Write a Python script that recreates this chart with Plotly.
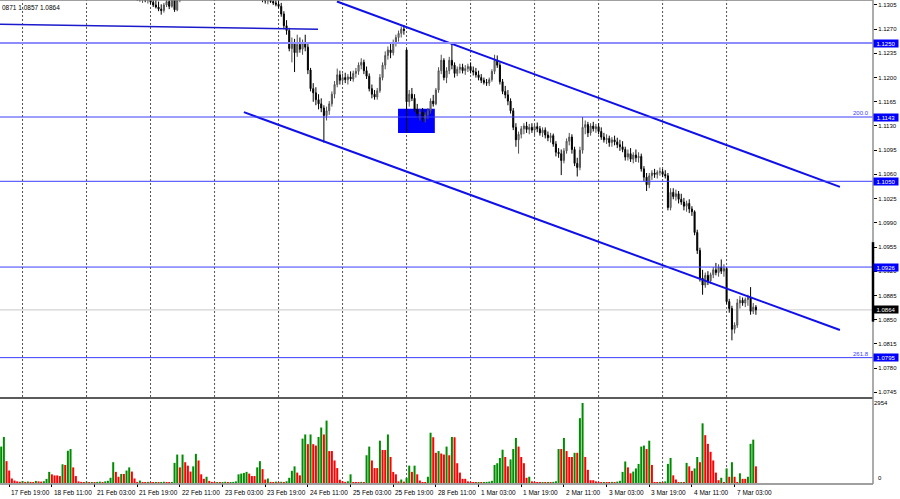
import plotly.graph_objects as go

# ---------------- data (EURUSD H1) ----------------
tick_labels = ["17 Feb 19:00", "18 Feb 11:00", "21 Feb 03:00", "21 Feb 19:00", "22 Feb 11:00",
               "23 Feb 03:00", "23 Feb 19:00", "24 Feb 11:00", "25 Feb 03:00", "25 Feb 19:00",
               "28 Feb 11:00", "1 Mar 03:00", "1 Mar 19:00", "2 Mar 11:00", "3 Mar 03:00",
               "3 Mar 19:00", "4 Mar 11:00", "7 Mar 03:00"]
BARS_PER_LABEL = 16          # one time label every 16 hourly bars
FIRST_BAR = -3               # index of first bar relative to "17 Feb 19:00"
DAY_START_FIRST = 5          # first bar of 18 Feb (00:00)
BARS_PER_DAY = 24

open_ = [
    1.1365, 1.1362, 1.1358, 1.1355, 1.1360, 1.1357, 1.1352, 1.1356, 1.1354, 1.1350,
    1.1347, 1.1349, 1.1344, 1.1341, 1.1346, 1.1352, 1.1348, 1.1343, 1.1338, 1.1335,
    1.1330, 1.1334, 1.1339, 1.1336, 1.1331, 1.1327, 1.1324, 1.1329, 1.1326, 1.1322,
    1.1318, 1.1320, 1.1323, 1.1345, 1.1368, 1.1375, 1.1382, 1.1389, 1.1384, 1.1378,
    1.1372, 1.1366, 1.1370, 1.1361, 1.1355, 1.1349, 1.1342, 1.1338, 1.1333, 1.1328,
    1.1324, 1.1320, 1.1318, 1.1314, 1.1315, 1.1312, 1.1316, 1.1309, 1.1305, 1.1302,
    1.1299, 1.1297, 1.1305, 1.1310, 1.1303, 1.1314, 1.1298, 1.1312, 1.1321, 1.1326,
    1.1331, 1.1338, 1.1335, 1.1342, 1.1339, 1.1334, 1.1330, 1.1333, 1.1337, 1.1340,
    1.1336, 1.1332, 1.1329, 1.1334, 1.1338, 1.1343, 1.1347, 1.1341, 1.1344, 1.1349,
    1.1352, 1.1346, 1.1340, 1.1335, 1.1331, 1.1327, 1.1324, 1.1320, 1.1318, 1.1314,
    1.1311, 1.1313, 1.1310, 1.1308, 1.1306, 1.1303, 1.1292, 1.1275, 1.1268, 1.1242,
    1.1250, 1.1236, 1.1248, 1.1241, 1.1250, 1.1244, 1.1211, 1.1184, 1.1178, 1.1168,
    1.1162, 1.1156, 1.1145, 1.1152, 1.1162, 1.1176, 1.1190, 1.1204, 1.1196, 1.1200,
    1.1197, 1.1201, 1.1198, 1.1206, 1.1209, 1.1218, 1.1222, 1.1210, 1.1202, 1.1184,
    1.1176, 1.1172, 1.1181, 1.1200, 1.1218, 1.1232, 1.1240, 1.1236, 1.1250, 1.1258,
    1.1264, 1.1270, 1.1240, 1.1165, 1.1176, 1.1170, 1.1154, 1.1148, 1.1150, 1.1141,
    1.1146, 1.1152, 1.1166, 1.1162, 1.1182, 1.1210, 1.1225, 1.1200, 1.1210, 1.1225,
    1.1218, 1.1206, 1.1212, 1.1215, 1.1210, 1.1213, 1.1216, 1.1210, 1.1208, 1.1204,
    1.1200, 1.1196, 1.1193, 1.1192, 1.1197, 1.1209, 1.1225, 1.1218, 1.1194, 1.1180,
    1.1175, 1.1166, 1.1152, 1.1128, 1.1110, 1.1118, 1.1126, 1.1130, 1.1125, 1.1128,
    1.1124, 1.1129, 1.1126, 1.1120, 1.1124, 1.1117, 1.1113, 1.1116, 1.1104, 1.1092,
    1.1090, 1.1080, 1.1094, 1.1108, 1.1114, 1.1096, 1.1076, 1.1070, 1.1095, 1.1128,
    1.1132, 1.1120, 1.1130, 1.1126, 1.1129, 1.1122, 1.1114, 1.1110, 1.1112, 1.1106,
    1.1110, 1.1107, 1.1103, 1.1100, 1.1096, 1.1085, 1.1090, 1.1082, 1.1088, 1.1084,
    1.1086, 1.1068, 1.1056, 1.1045, 1.1058, 1.1062, 1.1060, 1.1063, 1.1064, 1.1060,
    1.1058, 1.1012, 1.1034, 1.1028, 1.1032, 1.1024, 1.1020, 1.1014, 1.1018, 1.1010,
    1.1006, 1.0976, 1.0950, 1.0910, 1.0900, 1.0914, 1.0906, 1.0915, 1.0922, 1.0918,
    1.0926, 1.0920, 1.0924, 1.0876, 1.0866, 1.0836, 1.0842, 1.0874, 1.0878, 1.0874,
    1.0879, 1.0882, 1.0862, 1.0868,
]
high = [
    1.1369, 1.1366, 1.1361, 1.1364, 1.1363, 1.1360, 1.1359, 1.1360, 1.1357, 1.1354,
    1.1353, 1.1352, 1.1348, 1.1350, 1.1357, 1.1355, 1.1351, 1.1346, 1.1342, 1.1338,
    1.1338, 1.1344, 1.1342, 1.1339, 1.1334, 1.1330, 1.1333, 1.1332, 1.1329, 1.1325,
    1.1324, 1.1327, 1.1350, 1.1372, 1.1380, 1.1387, 1.1395, 1.1393, 1.1388, 1.1381,
    1.1376, 1.1375, 1.1373, 1.1365, 1.1359, 1.1352, 1.1346, 1.1341, 1.1337, 1.1332,
    1.1327, 1.1330, 1.1325, 1.1320, 1.1322, 1.1319, 1.1321, 1.1314, 1.1313, 1.1310,
    1.1306, 1.1308, 1.1315, 1.1318, 1.1317, 1.1320, 1.1316, 1.1325, 1.1330, 1.1335,
    1.1342, 1.1341, 1.1346, 1.1345, 1.1342, 1.1337, 1.1337, 1.1341, 1.1344, 1.1343,
    1.1339, 1.1335, 1.1338, 1.1342, 1.1347, 1.1351, 1.1350, 1.1348, 1.1353, 1.1356,
    1.1355, 1.1349, 1.1343, 1.1338, 1.1334, 1.1330, 1.1327, 1.1323, 1.1324, 1.1320,
    1.1318, 1.1319, 1.1317, 1.1314, 1.1312, 1.1308, 1.1296, 1.1283, 1.1272, 1.1258,
    1.1256, 1.1262, 1.1258, 1.1255, 1.1262, 1.1250, 1.1214, 1.1192, 1.1186, 1.1176,
    1.1170, 1.1160, 1.1158, 1.1166, 1.1180, 1.1195, 1.1213, 1.1210, 1.1206, 1.1207,
    1.1205, 1.1209, 1.1210, 1.1214, 1.1222, 1.1228, 1.1226, 1.1216, 1.1206, 1.1190,
    1.1182, 1.1185, 1.1205, 1.1222, 1.1238, 1.1245, 1.1250, 1.1255, 1.1262, 1.1268,
    1.1274, 1.1276, 1.1242, 1.1182, 1.1185, 1.1176, 1.1162, 1.1155, 1.1156, 1.1150,
    1.1156, 1.1170, 1.1175, 1.1185, 1.1215, 1.1233, 1.1228, 1.1215, 1.1230, 1.1250,
    1.1222, 1.1216, 1.1220, 1.1220, 1.1218, 1.1220, 1.1222, 1.1216, 1.1214, 1.1210,
    1.1205, 1.1200, 1.1198, 1.1200, 1.1212, 1.1233, 1.1232, 1.1222, 1.1198, 1.1188,
    1.1182, 1.1170, 1.1156, 1.1134, 1.1122, 1.1130, 1.1134, 1.1136, 1.1133, 1.1134,
    1.1132, 1.1135, 1.1130, 1.1128, 1.1128, 1.1122, 1.1120, 1.1119, 1.1108, 1.1098,
    1.1096, 1.1098, 1.1112, 1.1120, 1.1118, 1.1100, 1.1084, 1.1100, 1.1143, 1.1138,
    1.1136, 1.1134, 1.1136, 1.1133, 1.1134, 1.1128, 1.1120, 1.1118, 1.1116, 1.1114,
    1.1116, 1.1113, 1.1110, 1.1108, 1.1100, 1.1096, 1.1098, 1.1092, 1.1096, 1.1092,
    1.1090, 1.1072, 1.1062, 1.1062, 1.1066, 1.1068, 1.1066, 1.1070, 1.1068, 1.1066,
    1.1062, 1.1040, 1.1040, 1.1038, 1.1036, 1.1032, 1.1026, 1.1022, 1.1024, 1.1014,
    1.1008, 1.0980, 1.0954, 1.0922, 1.0918, 1.0920, 1.0918, 1.0926, 1.0932, 1.0930,
    1.0937, 1.0930, 1.0926, 1.0880, 1.0870, 1.0846, 1.0880, 1.0884, 1.0882, 1.0882,
    1.0886, 1.0897, 1.0874, 1.0871,
]
low = [
    1.1358, 1.1354, 1.1350, 1.1352, 1.1353, 1.1348, 1.1349, 1.1350, 1.1346, 1.1343,
    1.1344, 1.1340, 1.1336, 1.1338, 1.1343, 1.1344, 1.1339, 1.1334, 1.1330, 1.1326,
    1.1327, 1.1331, 1.1332, 1.1327, 1.1323, 1.1320, 1.1321, 1.1322, 1.1318, 1.1315,
    1.1315, 1.1316, 1.1319, 1.1341, 1.1362, 1.1370, 1.1378, 1.1380, 1.1373, 1.1367,
    1.1361, 1.1362, 1.1356, 1.1350, 1.1344, 1.1337, 1.1333, 1.1328, 1.1323, 1.1319,
    1.1315, 1.1311, 1.1310, 1.1308, 1.1309, 1.1307, 1.1306, 1.1302, 1.1300, 1.1296,
    1.1291, 1.1294, 1.1302, 1.1299, 1.1301, 1.1295, 1.1296, 1.1309, 1.1316, 1.1322,
    1.1327, 1.1330, 1.1332, 1.1335, 1.1330, 1.1326, 1.1327, 1.1330, 1.1333, 1.1332,
    1.1328, 1.1324, 1.1325, 1.1330, 1.1335, 1.1339, 1.1337, 1.1338, 1.1340, 1.1345,
    1.1342, 1.1336, 1.1331, 1.1327, 1.1323, 1.1320, 1.1316, 1.1314, 1.1309, 1.1307,
    1.1306, 1.1308, 1.1305, 1.1303, 1.1300, 1.1288, 1.1270, 1.1262, 1.1238, 1.1222,
    1.1208, 1.1230, 1.1236, 1.1233, 1.1238, 1.1205, 1.1180, 1.1165, 1.1160, 1.1154,
    1.1150, 1.1106, 1.1138, 1.1146, 1.1158, 1.1170, 1.1186, 1.1190, 1.1190, 1.1192,
    1.1190, 1.1195, 1.1194, 1.1200, 1.1204, 1.1212, 1.1205, 1.1198, 1.1180, 1.1170,
    1.1168, 1.1168, 1.1178, 1.1196, 1.1212, 1.1226, 1.1228, 1.1232, 1.1245, 1.1252,
    1.1258, 1.1262, 1.1120, 1.1158, 1.1166, 1.1150, 1.1142, 1.1138, 1.1136, 1.1135,
    1.1140, 1.1148, 1.1158, 1.1160, 1.1178, 1.1205, 1.1196, 1.1192, 1.1205, 1.1212,
    1.1200, 1.1202, 1.1206, 1.1206, 1.1204, 1.1208, 1.1206, 1.1203, 1.1200, 1.1196,
    1.1192, 1.1190, 1.1188, 1.1188, 1.1194, 1.1205, 1.1214, 1.1190, 1.1176, 1.1170,
    1.1160, 1.1148, 1.1124, 1.1100, 1.1090, 1.1112, 1.1118, 1.1120, 1.1118, 1.1120,
    1.1117, 1.1121, 1.1116, 1.1114, 1.1112, 1.1108, 1.1106, 1.1100, 1.1086, 1.1084,
    1.1059, 1.1076, 1.1090, 1.1102, 1.1090, 1.1072, 1.1057, 1.1066, 1.1090, 1.1118,
    1.1114, 1.1116, 1.1122, 1.1120, 1.1118, 1.1110, 1.1106, 1.1104, 1.1100, 1.1100,
    1.1102, 1.1098, 1.1094, 1.1092, 1.1080, 1.1080, 1.1078, 1.1076, 1.1078, 1.1077,
    1.1064, 1.1050, 1.1036, 1.1040, 1.1052, 1.1055, 1.1054, 1.1058, 1.1056, 1.1054,
    1.1008, 1.1008, 1.1024, 1.1022, 1.1018, 1.1016, 1.1008, 1.1006, 1.1004, 1.1000,
    1.0972, 1.0945, 1.0905, 1.0886, 1.0896, 1.0900, 1.0902, 1.0910, 1.0914, 1.0912,
    1.0916, 1.0912, 1.0872, 1.0860, 1.0820, 1.0830, 1.0838, 1.0866, 1.0870, 1.0868,
    1.0870, 1.0857, 1.0858, 1.0857,
]
close = [
    1.1362, 1.1358, 1.1355, 1.1360, 1.1357, 1.1352, 1.1356, 1.1354, 1.1350, 1.1347,
    1.1349, 1.1344, 1.1341, 1.1346, 1.1352, 1.1348, 1.1343, 1.1338, 1.1335, 1.1330,
    1.1334, 1.1339, 1.1336, 1.1331, 1.1327, 1.1324, 1.1329, 1.1326, 1.1322, 1.1318,
    1.1320, 1.1323, 1.1345, 1.1368, 1.1375, 1.1382, 1.1389, 1.1384, 1.1378, 1.1372,
    1.1366, 1.1370, 1.1361, 1.1355, 1.1349, 1.1342, 1.1338, 1.1333, 1.1328, 1.1324,
    1.1320, 1.1318, 1.1314, 1.1315, 1.1312, 1.1316, 1.1309, 1.1305, 1.1302, 1.1299,
    1.1297, 1.1305, 1.1310, 1.1303, 1.1314, 1.1298, 1.1312, 1.1321, 1.1326, 1.1331,
    1.1338, 1.1335, 1.1342, 1.1339, 1.1334, 1.1330, 1.1333, 1.1337, 1.1340, 1.1336,
    1.1332, 1.1329, 1.1334, 1.1338, 1.1343, 1.1347, 1.1341, 1.1344, 1.1349, 1.1352,
    1.1346, 1.1340, 1.1335, 1.1331, 1.1327, 1.1324, 1.1320, 1.1318, 1.1314, 1.1311,
    1.1313, 1.1310, 1.1308, 1.1306, 1.1303, 1.1292, 1.1275, 1.1268, 1.1242, 1.1250,
    1.1236, 1.1248, 1.1241, 1.1250, 1.1244, 1.1211, 1.1184, 1.1178, 1.1168, 1.1162,
    1.1156, 1.1145, 1.1152, 1.1162, 1.1176, 1.1190, 1.1204, 1.1196, 1.1200, 1.1197,
    1.1201, 1.1198, 1.1206, 1.1209, 1.1218, 1.1222, 1.1210, 1.1202, 1.1184, 1.1176,
    1.1172, 1.1181, 1.1200, 1.1218, 1.1232, 1.1240, 1.1236, 1.1250, 1.1258, 1.1264,
    1.1270, 1.1268, 1.1165, 1.1176, 1.1170, 1.1154, 1.1148, 1.1150, 1.1141, 1.1146,
    1.1152, 1.1166, 1.1162, 1.1182, 1.1210, 1.1225, 1.1200, 1.1210, 1.1225, 1.1218,
    1.1206, 1.1212, 1.1215, 1.1210, 1.1213, 1.1216, 1.1210, 1.1208, 1.1204, 1.1200,
    1.1196, 1.1193, 1.1192, 1.1197, 1.1209, 1.1225, 1.1218, 1.1194, 1.1180, 1.1175,
    1.1166, 1.1152, 1.1128, 1.1110, 1.1118, 1.1126, 1.1130, 1.1125, 1.1128, 1.1124,
    1.1129, 1.1126, 1.1120, 1.1124, 1.1117, 1.1113, 1.1116, 1.1104, 1.1092, 1.1090,
    1.1080, 1.1094, 1.1108, 1.1114, 1.1096, 1.1076, 1.1070, 1.1095, 1.1128, 1.1132,
    1.1120, 1.1130, 1.1126, 1.1129, 1.1122, 1.1114, 1.1110, 1.1112, 1.1106, 1.1110,
    1.1107, 1.1103, 1.1100, 1.1096, 1.1085, 1.1090, 1.1082, 1.1088, 1.1084, 1.1086,
    1.1068, 1.1056, 1.1045, 1.1058, 1.1062, 1.1060, 1.1063, 1.1064, 1.1060, 1.1058,
    1.1012, 1.1034, 1.1028, 1.1032, 1.1024, 1.1020, 1.1014, 1.1018, 1.1010, 1.1006,
    1.0976, 1.0950, 1.0910, 1.0900, 1.0914, 1.0906, 1.0915, 1.0922, 1.0918, 1.0926,
    1.0920, 1.0924, 1.0876, 1.0866, 1.0836, 1.0842, 1.0874, 1.0878, 1.0874, 1.0879,
    1.0882, 1.0862, 1.0868, 1.0864,
]
volume = [
    1344, 1700, 806, 460, 166, 90, 60, 45, 70, 40,
    55, 40, 30, 75, 60, 50, 65, 150, 410, 320,
    280, 280, 256, 690, 666, 1190, 1254, 576, 256, 60,
    40, 30, 45, 25, 35, 20, 40, 50, 35, 60,
    80, 192, 768, 410, 230, 333, 333, 460, 576, 422,
    166, 38, 90, 30, 25, 40, 30, 20, 35, 25,
    30, 45, 30, 20, 25, 742, 1050, 576, 1050, 768,
    640, 422, 614, 1075, 832, 320, 154, 230, 77, 40,
    25, 35, 20, 30, 45, 25, 30, 40, 60, 320,
    346, 371, 410, 346, 256, 256, 576, 806, 512, 128,
    166, 40, 30, 50, 35, 45, 26, 64, 192, 448,
    614, 384, 282, 1638, 1792, 1434, 1792, 1434, 1382, 1700,
    2048, 1792, 2304, 1178, 1178, 832, 550, 120, 60, 40,
    64, 320, 26, 26, 26, 40, 26, 1024, 1344, 832,
    550, 550, 1562, 1216, 1216, 1792, 960, 410, 320, 60,
    128, 50, 192, 640, 410, 640, 320, 90, 26, 26,
    230, 1856, 1690, 1114, 1178, 1088, 1050, 1344, 1024, 1700,
    1690, 730, 384, 154, 154, 60, 40, 30, 25, 35,
    20, 30, 40, 50, 80, 666, 730, 922, 1229, 960,
    614, 870, 1254, 1664, 1344, 960, 730, 192, 230, 60,
    40, 30, 25, 35, 25, 30, 20, 40, 64, 1254,
    1254, 1664, 1178, 960, 960, 1114, 1114, 2394, 2954, 960,
    486, 102, 102, 60, 40, 30, 35, 25, 25, 40,
    30, 50, 80, 410, 794, 576, 358, 422, 538, 704,
    1344, 1382, 1254, 1562, 666, 25, 25, 40, 30, 60,
    704, 922, 282, 128, 25, 35, 25, 742, 614, 448,
    538, 960, 768, 2202, 1766, 1446, 1152, 832, 384, 102,
    192, 25, 538, 230, 768, 230, 25, 358, 154, 154,
    230, 1446, 1600, 614,
]

price_ticks = [1.1305, 1.1270, 1.1235, 1.1200, 1.1165, 1.1130, 1.1095, 1.1060, 1.1025,
               1.0990, 1.0955, 1.0920, 1.0885, 1.0850, 1.0815, 1.0780, 1.0745]
level_prices = [1.1250, 1.1143, 1.1050, 1.0926, 1.0795]
level_colors = ["#8c8cff", "#3c3cff", "#3c3cff", "#3c3cff", "#3c3cff"]
fib_labels = ["200.0", "261.8"]
fib_prices = [1.1143, 1.0795]
current_price = 1.0864
volume_max_label = 2954
header_text = "0871 1.0857 1.0864"

# drawn objects, anchored in (bar index, price)
upper_channel_x = [122.9, 311.5]
upper_channel_y = [1.1310, 1.1042]
lower_channel_x = [88.0, 311.5]
lower_channel_y = [1.1150, 1.0835]
old_trend_x = [-3.45, 115.8]
old_trend_y = [1.1277, 1.1270]
gap_box_x = [145.8, 159.6]
gap_box_y = [1.1120, 1.1155]
scale_bar_y = [1.0847, 1.0962]

X_RANGE = [-3.45, 323.9]
PRICE_RANGE = [1.07381, 1.13122]
VOL_RANGE = [0, 3065]

# ---------------- figure ----------------
FONT = "Liberation Sans, Arial, sans-serif"
bar_x = list(range(FIRST_BAR, FIRST_BAR + len(close)))
vol_colors = []
prev = 0
for v in volume:
    vol_colors.append("#008c00" if v > prev else "#ff0000")
    prev = v

MAIN_DOM = [0.1798, 1.0]
VOL_DOM = [0.0021, 0.1736]

fig = go.Figure()
fig.add_trace(go.Candlestick(
    x=bar_x, open=open_, high=high, low=low, close=close,
    increasing=dict(line=dict(color="#505050", width=1), fillcolor="#a8a8a8"),
    decreasing=dict(line=dict(color="#000000", width=1), fillcolor="#000000"),
    whiskerwidth=0, showlegend=False, hoverinfo="skip", xaxis="x", yaxis="y"))

fig.add_trace(go.Scatter(x=upper_channel_x, y=upper_channel_y, mode="lines",
                         line=dict(color="#1010e8", width=2), showlegend=False,
                         hoverinfo="skip", xaxis="x", yaxis="y"))
fig.add_trace(go.Scatter(x=lower_channel_x, y=lower_channel_y, mode="lines",
                         line=dict(color="#1010e8", width=2), showlegend=False,
                         hoverinfo="skip", xaxis="x", yaxis="y"))
fig.add_trace(go.Scatter(x=old_trend_x, y=old_trend_y, mode="lines",
                         line=dict(color="#1a1acc", width=1.5), showlegend=False,
                         hoverinfo="skip", xaxis="x", yaxis="y"))

fig.add_trace(go.Bar(x=bar_x, y=volume, marker=dict(color=vol_colors, line=dict(width=0)),
                     showlegend=False, hoverinfo="skip", xaxis="x2", yaxis="y2"))

shapes = []
# day separators (dashed verticals) in both panes
for d in range(DAY_START_FIRST, int(X_RANGE[1]) - 30, BARS_PER_DAY):
    for dom in (MAIN_DOM, VOL_DOM):
        shapes.append(dict(type="line", xref="x", yref="paper", x0=d, x1=d,
                           y0=dom[0], y1=dom[1], layer="below",
                           line=dict(color="#505050", width=1, dash="2px,2px")))
# gap rectangle
shapes.append(dict(type="rect", xref="x", yref="y", x0=gap_box_x[0], x1=gap_box_x[1],
                   y0=gap_box_y[0], y1=gap_box_y[1], fillcolor="#0000ff",
                   line=dict(width=0), layer="below"))
# horizontal levels
for p, c in zip(level_prices, level_colors):
    shapes.append(dict(type="line", xref="paper", yref="y", x0=0, x1=1, y0=p, y1=p,
                       line=dict(color=c, width=2 if c == "#8c8cff" else 1)))
shapes.append(dict(type="line", xref="paper", yref="y", x0=0, x1=1,
                   y0=current_price, y1=current_price, layer="below",
                   line=dict(color="#c8c8c8", width=1)))
# frames
shapes.append(dict(type="line", xref="paper", yref="paper", x0=0, x1=1, y0=1, y1=1,
                   line=dict(color="#808080", width=1.5)))
shapes.append(dict(type="line", xref="paper", yref="paper", x0=0, x1=1,
                   y0=MAIN_DOM[0] - 0.002, y1=MAIN_DOM[0] - 0.002,
                   line=dict(color="#5a5a5a", width=2)))
shapes.append(dict(type="line", xref="paper", yref="paper", x0=0, x1=1, y0=0, y1=0,
                   line=dict(color="#808080", width=1.5)))
shapes.append(dict(type="line", xref="paper", yref="paper", x0=1, x1=1, y0=0, y1=1,
                   line=dict(color="#909090", width=1.5)))
shapes.append(dict(type="line", xref="paper", yref="y", x0=1, x1=1,
                   y0=scale_bar_y[0], y1=scale_bar_y[1],
                   line=dict(color="#000000", width=2.5)))

annotations = []
for k, lab in enumerate(tick_labels):
    annotations.append(dict(x=k * BARS_PER_LABEL, y=0, xref="x2", yref="paper",
                            text=lab, showarrow=False, xanchor="left", yanchor="top",
                            xshift=0, yshift=-3,
                            font=dict(family=FONT, size=6.5, color="#000000")))
for p in level_prices:
    annotations.append(dict(x=1, y=p, xref="paper", yref="y", text=f"{p:.4f}",
                            showarrow=False, xanchor="left", yanchor="middle",
                            width=24, height=7, borderpad=0, bgcolor="#0000ff",
                            font=dict(family=FONT, size=6, color="#ffffff")))
annotations.append(dict(x=1, y=current_price, xref="paper", yref="y",
                        text=f"{current_price:.4f}", showarrow=False, xanchor="left",
                        yanchor="middle", width=24, height=7, borderpad=0,
                        bgcolor="#000000", font=dict(family=FONT, size=6, color="#ffffff")))
for t, p in zip(fib_labels, fib_prices):
    annotations.append(dict(x=1, y=p, xref="paper", yref="y", text=t, showarrow=False,
                            xanchor="right", yanchor="bottom", xshift=-2, yshift=-1,
                            font=dict(family=FONT, size=6, color="#3c3cff")))
annotations.append(dict(x=0, y=1, xref="paper", yref="paper", text=header_text,
                        showarrow=False, xanchor="left", yanchor="top", yshift=-2,
                        font=dict(family=FONT, size=6.5, color="#000000")))
annotations.append(dict(x=1, y=0, xref="paper", yref="y2", text="0", showarrow=False,
                        xanchor="left", yanchor="bottom", xshift=3,
                        font=dict(family=FONT, size=6, color="#000000")))

fig.update_layout(
    width=900, height=499,
    margin=dict(l=0, r=27, t=0, b=15, pad=0),
    paper_bgcolor="#ffffff", plot_bgcolor="#ffffff",
    showlegend=False, hovermode=False,
    boxgap=0.45, bargap=0.25,
    font=dict(family=FONT, size=6, color="#000000"),
    xaxis=dict(domain=[0, 1], range=X_RANGE, anchor="y", showticklabels=False,
               showgrid=False, zeroline=False, showline=False, ticks="",
               rangeslider=dict(visible=False), fixedrange=True),
    yaxis=dict(domain=MAIN_DOM, range=PRICE_RANGE, side="right", anchor="x",
               tickvals=price_ticks, ticktext=[f"{p:.4f}" for p in price_ticks],
               ticks="outside", ticklen=3, tickwidth=1, tickcolor="#000000",
               tickfont=dict(family=FONT, size=6, color="#000000"),
               showgrid=False, zeroline=False, showline=False, automargin=False),
    xaxis2=dict(domain=[0, 1], range=X_RANGE, anchor="y2", matches="x",
                tickvals=[k * BARS_PER_LABEL for k in range(len(tick_labels))],
                showticklabels=False, ticks="outside", ticklen=3, tickcolor="#000000",
                showgrid=False, zeroline=False, showline=False, automargin=False),
    yaxis2=dict(domain=VOL_DOM, range=VOL_RANGE, side="right", anchor="x2",
                tickvals=[volume_max_label], ticktext=[str(volume_max_label)],
                ticks="", tickfont=dict(family=FONT, size=6, color="#000000"),
                showgrid=False, zeroline=False, showline=False, automargin=False),
    shapes=shapes, annotations=annotations,
)

fig.write_html("out.html", config={"displayModeBar": False},
               post_script="document.body.style.margin='0px';document.body.style.overflow='hidden';")
